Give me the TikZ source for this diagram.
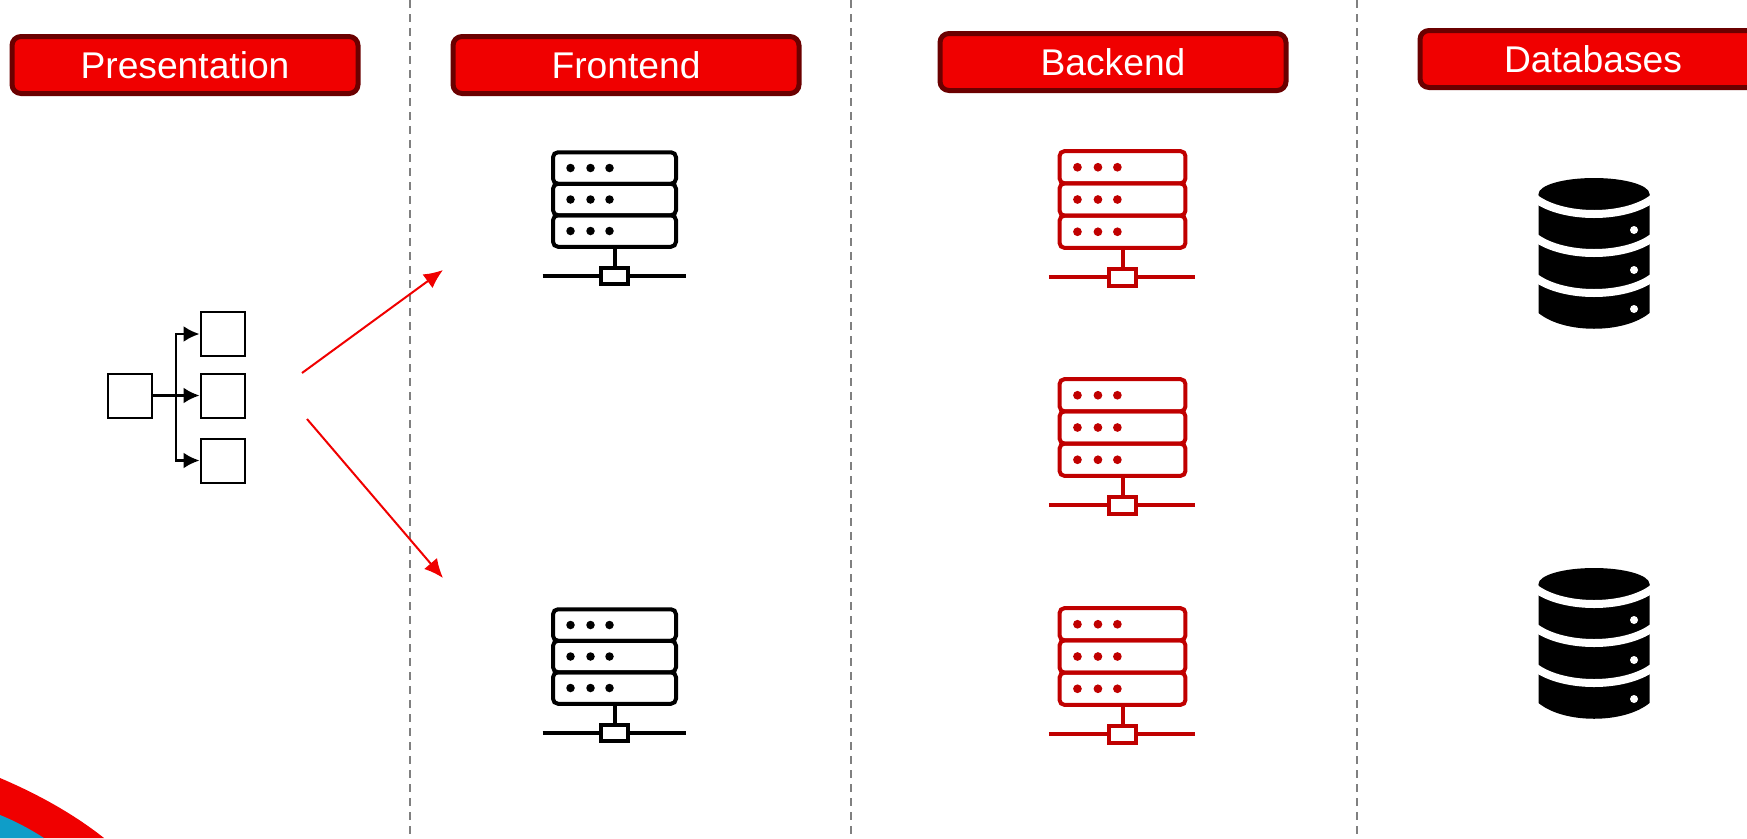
\documentclass[tikz,border=0pt]{standalone}
\usepackage{fontspec}
\usetikzlibrary{arrows.meta}
\setmainfont{Liberation Sans}
\definecolor{headred}{HTML}{F00000}
\definecolor{headdark}{HTML}{6B0000}
\definecolor{rackred}{HTML}{C00000}
\definecolor{swooshblue}{HTML}{0F9DC8}
\begin{document}
\begin{tikzpicture}[x=1pt,y=-1pt,
      header/.style={rectangle, rounded corners=9pt, draw=headdark, fill=headred, line width=5pt,
        minimum width=346pt, minimum height=57pt, text=white, font=\fontsize{37.2}{40}\selectfont},
      orgbox/.style={rectangle, draw=black, line width=2pt, minimum size=44pt},
      divider/.style={gray, line width=2pt, dash pattern=on 8pt off 6pt},
      redarrow/.style={-{Latex[length=19pt,width=17pt]}, headred, line width=2pt},
      orgline/.style={-{Latex[length=16pt,width=16pt]}, line width=2.5pt},
      rackrow/.style={rectangle, rounded corners=5pt, draw, line width=4pt, minimum width=123pt, minimum height=31.5pt},
      rackdot/.style={circle, fill, inner sep=0pt, minimum size=8.5pt},
      rackbox/.style={rectangle, draw, fill=white, line width=4pt, minimum width=27pt, minimum height=16pt},
      pics/serverrack/.style={code={
        \node[rackrow] (-r1) at (0,-31.5) {};
        \node[rackrow] (-r2) at (0,0) {};
        \node[rackrow] (-r3) at (0,31.5) {};
        \node[rackdot] (-d11) at (-44,-31.5) {};
        \node[rackdot] (-d12) at (-24,-31.5) {};
        \node[rackdot] (-d13) at (-5,-31.5) {};
        \node[rackdot] (-d21) at (-44,0) {};
        \node[rackdot] (-d22) at (-24,0) {};
        \node[rackdot] (-d23) at (-5,0) {};
        \node[rackdot] (-d31) at (-44,31.5) {};
        \node[rackdot] (-d32) at (-24,31.5) {};
        \node[rackdot] (-d33) at (-5,31.5) {};
        \draw[line width=4pt] (0,47) -- (0,76);
        \draw[line width=4pt] (-72,76) -- (71,76);
        \node[rackbox] (-b) at (0,76) {};
      }},
      pics/dbstack/.style={code={
        \fill (-55.5,0) -- (-55.5,119) .. controls (-30,140) and (30,140) .. (55.5,119) -- (55.5,0) -- cycle;
        \fill (0,0) ellipse[x radius=55.5, y radius=16];
        \draw[white, line width=8pt] (-58,5) .. controls (-30,25) and (30,25) .. (58,5);
        \draw[white, line width=8pt] (-58,44) .. controls (-30,64) and (30,64) .. (58,44);
        \draw[white, line width=8pt] (-58,84) .. controls (-30,104) and (30,104) .. (58,84);
        \fill[white] (40,36) circle[radius=4];
        \fill[white] (40,76) circle[radius=4];
        \fill[white] (40,115) circle[radius=4];
      }}]

    \useasboundingbox (0,0) rectangle (1747,838);
    \clip (0,0) rectangle (1747,838);

    % corner swoosh
    \fill[headred] (0,778) .. controls (40,795) and (75,815) .. (104,838) -- (0,838) -- cycle;
    \fill[swooshblue] (0,815) .. controls (15,821) and (30,829) .. (44,838) -- (0,838) -- cycle;

    \draw[divider] (410,0) -- (410,838);
    \draw[divider] (851,0) -- (851,838);
    \draw[divider] (1357,0) -- (1357,838);

    \node[header] (presentation) at (185,65) {\raisebox{-1.5pt}{Presentation}};
    \node[header] (frontend) at (626,65) {\raisebox{-1.5pt}{Frontend}};
    \node[header] (backend) at (1113,62) {Backend};
    \node[header] (databases) at (1593,59) {Databases};

    \node[orgbox] (root) at (129.5,395.5) {};
    \node[orgbox] (childa) at (222.5,334) {};
    \node[orgbox] (childb) at (222.5,395.5) {};
    \node[orgbox] (childc) at (222.5,460.5) {};
    \coordinate (spine) at (176,395.5);

    \draw[orgline] (root) -- (childb);
    \draw[orgline] (spine) |- (childa);
    \draw[orgline] (spine) |- (childc);

    \coordinate (taila) at (302,373);
    \coordinate (tipa) at (443,270);
    \coordinate (tailb) at (307,419);
    \coordinate (tipb) at (443,578);
    \draw[redarrow] (taila) -- (tipa);
    \draw[redarrow] (tailb) -- (tipb);

    \pic (fa) at (614.5,199.5) {serverrack};
    \pic (fb) at (614.5,656.5) {serverrack};

    \pic[color=rackred, scale=1.024, transform shape] (ba) at (1122.5,199.5) {serverrack};
    \pic[color=rackred, scale=1.024, transform shape] (bb) at (1122.5,427.5) {serverrack};
    \pic[color=rackred, scale=1.024, transform shape] (bc) at (1122.5,656.5) {serverrack};

    \pic (da) at (1594,194) {dbstack};
    \pic (db) at (1594,584) {dbstack};

  \end{tikzpicture}
\end{document}
